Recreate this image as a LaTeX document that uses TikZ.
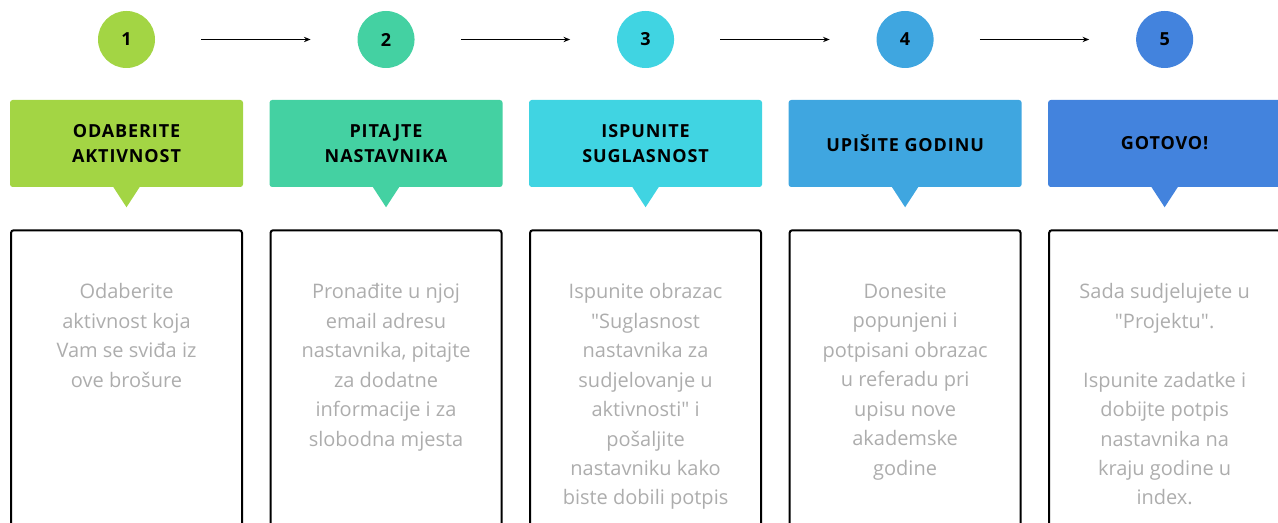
\documentclass[tikz,border=0pt]{standalone}
\usepackage{fontspec}
\setmainfont{Open Sans}
\newfontfamily\plainsans{Open Sans}
\usetikzlibrary{arrows.meta,positioning,shapes}

\definecolor{stepone}{HTML}{A3D544}
\definecolor{steptwo}{HTML}{44D1A2}
\definecolor{stepthree}{HTML}{40D4E2}
\definecolor{stepfour}{HTML}{3FA6E0}
\definecolor{stepfive}{HTML}{4383DD}
\definecolor{bodygray}{HTML}{ADADAD}

\newcommand\headfont{\fontsize{13.5}{18.75}\bfseries\selectfont\addfontfeatures{LetterSpace=5}}
\newcommand\bodyfont{\plainsans\fontsize{15}{22.1}\selectfont}

\begin{document}
\begin{tikzpicture}[x=0.75pt,y=-0.75pt,
  numstyle/.style={circle,minimum size=42.75pt,inner sep=0pt,font=\headfont},
  headstyle/.style={rectangle,rounded corners=2pt,minimum width=174.75pt,minimum height=65.25pt,inner sep=0pt,align=center,font=\headfont},
  boxstyle/.style={rectangle,draw=black,line width=1.5pt,rounded corners=2pt,minimum width=173.25pt,minimum height=260pt,inner sep=0pt},
  bodystyle/.style={align=center,anchor=north,text=bodygray,font=\bodyfont,inner sep=0pt},
  flowarrow/.style={-{Stealth[length=5pt,width=4pt]},line width=1pt,shorten <=34.5pt,shorten >=35pt}]

\useasboundingbox (0,0) rectangle (1278,523);
\clip (0,0) rectangle (1278,523);

% numbered circles
\node[numstyle,fill=stepone] (c1) at (126.5,39.5) {1};
\node[numstyle,fill=steptwo,right=151.5pt of c1] (c2) {2};
\node[numstyle,fill=stepthree,right=151.5pt of c2] (c3) {3};
\node[numstyle,fill=stepfour,right=151.5pt of c3] (c4) {4};
\node[numstyle,fill=stepfive,right=151.5pt of c4] (c5) {5};

\draw[flowarrow] (c1) -- (c2);
\draw[flowarrow] (c2) -- (c3);
\draw[flowarrow] (c3) -- (c4);
\draw[flowarrow] (c4) -- (c5);

% coloured headers
\node[headstyle,fill=stepone,below=23.6pt of c1] (h1) {ODABERITE\\AKTIVNOST};
\node[headstyle,fill=steptwo,below=23.6pt of c2] (h2) {PITAJTE\\NASTAVNIKA};
\node[headstyle,fill=stepthree,below=23.6pt of c3] (h3) {ISPUNITE\\SUGLASNOST};
\node[headstyle,fill=stepfour,below=23.6pt of c4] (h4) {UPIŠITE GODINU};
\node[headstyle,fill=stepfive,below=23.6pt of c5] (h5) {GOTOVO!};

\fill[stepone] ([xshift=-10.1pt,yshift=0.5pt]h1.south) -- ([xshift=10.1pt,yshift=0.5pt]h1.south) -- ([yshift=-15pt]h1.south) -- cycle;
\fill[steptwo] ([xshift=-10.1pt,yshift=0.5pt]h2.south) -- ([xshift=10.1pt,yshift=0.5pt]h2.south) -- ([yshift=-15pt]h2.south) -- cycle;
\fill[stepthree] ([xshift=-10.1pt,yshift=0.5pt]h3.south) -- ([xshift=10.1pt,yshift=0.5pt]h3.south) -- ([yshift=-15pt]h3.south) -- cycle;
\fill[stepfour] ([xshift=-10.1pt,yshift=0.5pt]h4.south) -- ([xshift=10.1pt,yshift=0.5pt]h4.south) -- ([yshift=-15pt]h4.south) -- cycle;
\fill[stepfive] ([xshift=-10.1pt,yshift=0.5pt]h5.south) -- ([xshift=10.1pt,yshift=0.5pt]h5.south) -- ([yshift=-15pt]h5.south) -- cycle;

% description boxes
\node[boxstyle,below=31.5pt of h1] (b1) {};
\node[boxstyle,below=31.5pt of h2] (b2) {};
\node[boxstyle,below=31.5pt of h3] (b3) {};
\node[boxstyle,below=31.5pt of h4] (b4) {};
\node[boxstyle,below=31.5pt of h5] (b5) {};

\node[bodystyle] (d1) at ([yshift=-40.5pt]b1.north) {Odaberite\\aktivnost koja\\Vam se sviđa iz\\ove brošure};
\node[bodystyle] (d2) at ([yshift=-40.5pt]b2.north) {Pronađite u njoj\\email adresu\\nastavnika, pitajte\\za dodatne\\informacije i za\\slobodna mjesta};
\node[bodystyle] (d3) at ([yshift=-40.5pt]b3.north) {Ispunite obrazac\\"Suglasnost\\nastavnika za\\sudjelovanje u\\aktivnosti" i\\pošaljite\\nastavniku kako\\biste dobili potpis};
\node[bodystyle] (d4) at ([yshift=-40.5pt]b4.north) {Donesite\\popunjeni i\\potpisani obrazac\\u referadu pri\\upisu nove\\akademske\\godine};
\node[bodystyle] (d5) at ([yshift=-40.5pt]b5.north) {Sada sudjelujete u\\"Projektu".\\[22.1pt]Ispunite zadatke i\\dobijte potpis\\nastavnika na\\kraju godine u\\index.};

\end{tikzpicture}
\end{document}
